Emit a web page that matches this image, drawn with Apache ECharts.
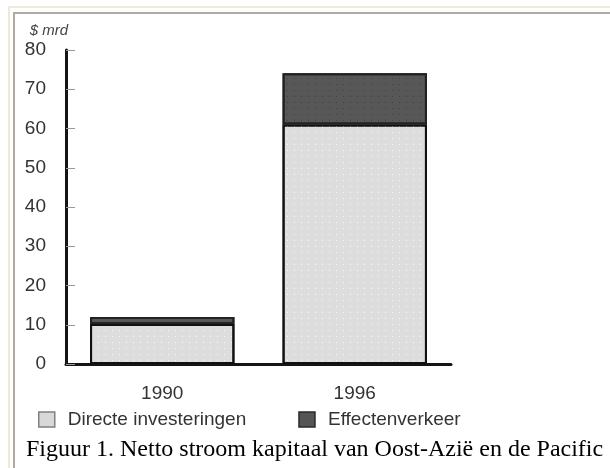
<!DOCTYPE html>
<html>
<head>
<meta charset="utf-8">
<script src="https://cdn.jsdelivr.net/npm/echarts@6/dist/echarts.min.js"></script>
<style>
  html, body { margin: 0; padding: 0; background: #fff; }
  #chart { width: 610px; height: 468px; }
</style>
</head>
<body>
<div id="chart"></div>
<script>
// values in $ mrd
const years = ['1990', '1996'];
const directeInvesteringen = [10.2, 61];
const effectenverkeer = [1.8, 13.1];
const yTicks = { min: 0, max: 80, interval: 10 };

const caption = 'Figuur 1. Netto stroom kapitaal van Oost-Azië en de Pacific';

const sans = '"Liberation Sans", Arial, sans-serif';

const chart = echarts.init(document.getElementById('chart'), null, { renderer: 'canvas' });

const option = {
    backgroundColor: '#fff',
    animation: false,
    grid: { left: 66, right: 159, top: 50, bottom: 104 },
    xAxis: {
        type: 'category',
        data: years,
        axisLine: { lineStyle: { color: '#151515', width: 3 } },
        axisTick: { inside: true, length: 8, lineStyle: { color: '#999', width: 1 } },
        axisLabel: { fontFamily: sans, fontSize: 19, color: '#333', margin: 20 }
    },
    yAxis: {
        type: 'value',
        min: yTicks.min,
        max: yTicks.max,
        interval: yTicks.interval,
        name: '$ mrd',
        nameLocation: 'end',
        nameGap: 12,
        nameTextStyle: {
            fontFamily: sans, fontSize: 15, fontStyle: 'italic', color: '#444',
            align: 'right', verticalAlign: 'bottom', padding: [0, -2, 0, 0]
        },
        splitLine: { show: false },
        axisLine: { show: true, lineStyle: { color: '#151515', width: 3 } },
        axisTick: { show: true, inside: true, length: 9, lineStyle: { color: '#999', width: 1 } },
        axisLabel: { fontFamily: sans, fontSize: 19, color: '#333', margin: 20 }
    },
    legend: {
        left: 33,
        top: 405,
        icon: 'rect',
        itemWidth: 16,
        itemHeight: 15,
        itemGap: 52,
        textStyle: { fontFamily: sans, fontSize: 19, color: '#333', padding: [0, 0, 0, 8] },
        data: [
            { name: 'Directe investeringen', itemStyle: { color: '#d8d8d8', borderColor: '#808080', borderWidth: 1.5, decal: 'none' } },
            { name: 'Effectenverkeer', itemStyle: { color: '#555', borderColor: '#2a2a2a', borderWidth: 1.5, decal: 'none' } }
        ]
    },
    series: [
        {
            name: 'Directe investeringen',
            type: 'bar',
            stack: 'totaal',
            barCategoryGap: '25%',
            data: directeInvesteringen,
            itemStyle: {
                color: '#dddddd',
                borderColor: '#111',
                borderWidth: 2,
                decal: {
                    symbol: 'rect', symbolSize: 1, color: 'rgba(255,255,255,0.75)',
                    dashArrayX: [1, 6], dashArrayY: [1, 5], rotation: 0
                }
            }
        },
        {
            name: 'Effectenverkeer',
            type: 'bar',
            stack: 'totaal',
            data: effectenverkeer,
            itemStyle: {
                color: '#575757',
                borderColor: '#222',
                borderWidth: 2,
                decal: {
                    symbol: 'rect', symbolSize: 1, color: 'rgba(60,60,60,0.8)',
                    dashArrayX: [1, 6], dashArrayY: [1, 5], rotation: 0
                }
            }
        }
    ],
    graphic: [
        // page frame
        { type: 'rect', silent: true, shape: { x: 9, y: 7, width: 700, height: 600 },
          style: { fill: 'none', stroke: '#efe9d8', lineWidth: 2 } },
        { type: 'rect', silent: true, shape: { x: 14, y: 13, width: 700, height: 600 },
          style: { fill: 'none', stroke: '#aeaaa2', lineWidth: 2 } },
        // caption under the chart
        { type: 'text', silent: true, left: 26, top: 438,
          style: { text: caption, font: '24px "Liberation Serif", "Times New Roman", serif', fill: '#000' } }
    ]
};

chart.setOption(option);
</script>
</body>
</html>
